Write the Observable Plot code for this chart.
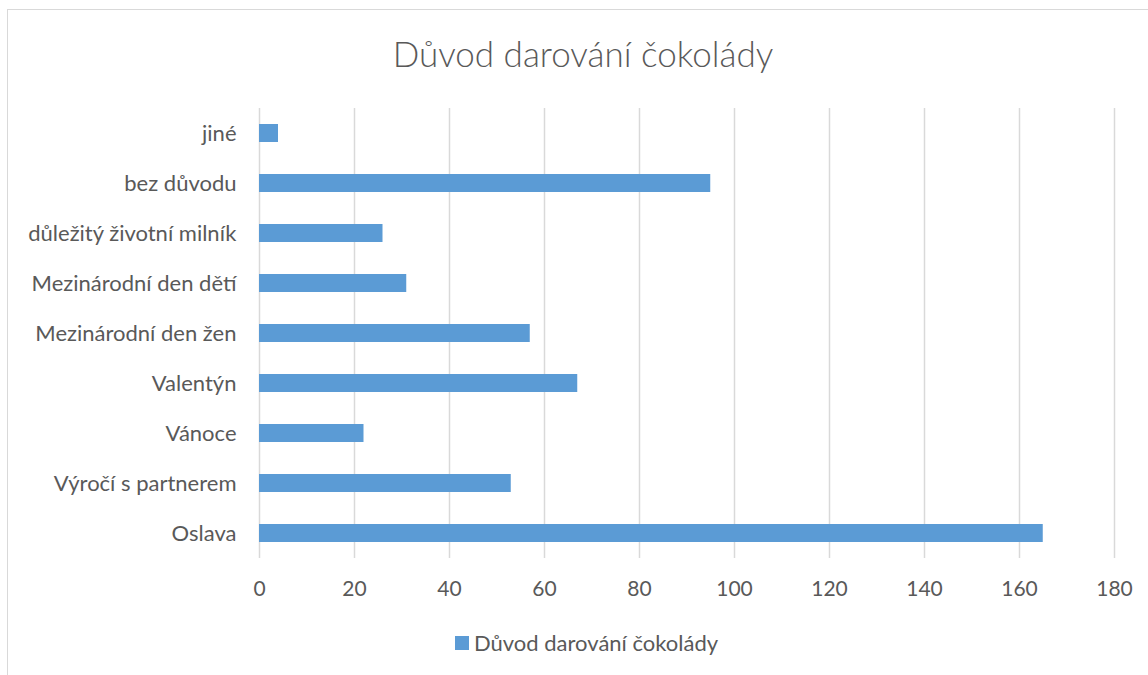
<!DOCTYPE html>
<html>
<head>
<meta charset="utf-8">
<script src="https://cdn.jsdelivr.net/npm/d3@7"></script>
<script src="https://cdn.jsdelivr.net/npm/@observablehq/plot@0.6"></script>
<style>
  html, body { margin: 0; padding: 0; background: #fff; }
  body { width: 1148px; height: 675px; overflow: hidden; font-family: Lato, "Open Sans", sans-serif; }
  #wrap { position: relative; width: 1148px; height: 675px; }
  #frame { position: absolute; left: 7px; top: 9px; width: 1160px; height: 700px; border: 1px solid #d9d9d9; box-sizing: border-box; }
  #title { position: absolute; top: 32px; left: 0; width: 1166px; text-align: center; font-size: 35px; font-weight: 300; color: #595959; }
  #chart { position: absolute; left: 0; top: 90px; }
  #legend { position: absolute; top: 629px; left: 455px; font-size: 22px; color: #595959; display: flex; align-items: center; }
  #legend .sw { width: 14px; height: 14px; background: #5b9bd5; margin-right: 5px; }
</style>
</head>
<body>
<div id="wrap">
  <div id="frame"></div>
  <div id="title">Důvod darování čokolády</div>
  <div id="chart"></div>
  <div id="legend"><span class="sw"></span><span>Důvod darování čokolády</span></div>
</div>
<script>
const categories = ["jiné", "bez důvodu", "důležitý životní milník", "Mezinárodní den dětí", "Mezinárodní den žen", "Valentýn", "Vánoce", "Výročí s partnerem", "Oslava"];
const values = [4, 95, 26, 31, 57, 67, 22, 53, 165];
const xTicks = [0, 20, 40, 60, 80, 100, 120, 140, 160, 180];

const data = categories.map((c, i) => ({category: c, value: values[i]}));

const chart = Plot.plot({
  width: 1148,
  height: 520,
  marginTop: 18,
  marginBottom: 52,
  marginLeft: 259,
  marginRight: 34,
  style: {fontFamily: "Lato, 'Open Sans', sans-serif", fontSize: "20px", color: "#595959", background: "transparent"},
  x: {domain: [0, 180], ticks: xTicks, label: null},
  y: {domain: categories, label: null, padding: 0},
  marks: [
    Plot.ruleX(xTicks, {stroke: "#d9d9d9", strokeWidth: 1.5}),
    Plot.barX(data, {x: "value", y: "category", fill: "#5b9bd5", insetTop: 16, insetBottom: 16}),
    Plot.axisX({ticks: xTicks, tickSize: 0, tickPadding: 23, label: null, fill: "#595959", fontSize: 21}),
    Plot.axisY({tickSize: 0, tickPadding: 23, label: null, fill: "#595959", fontSize: 22})
  ]
});
document.getElementById("chart").appendChild(chart);
</script>
</body>
</html>
